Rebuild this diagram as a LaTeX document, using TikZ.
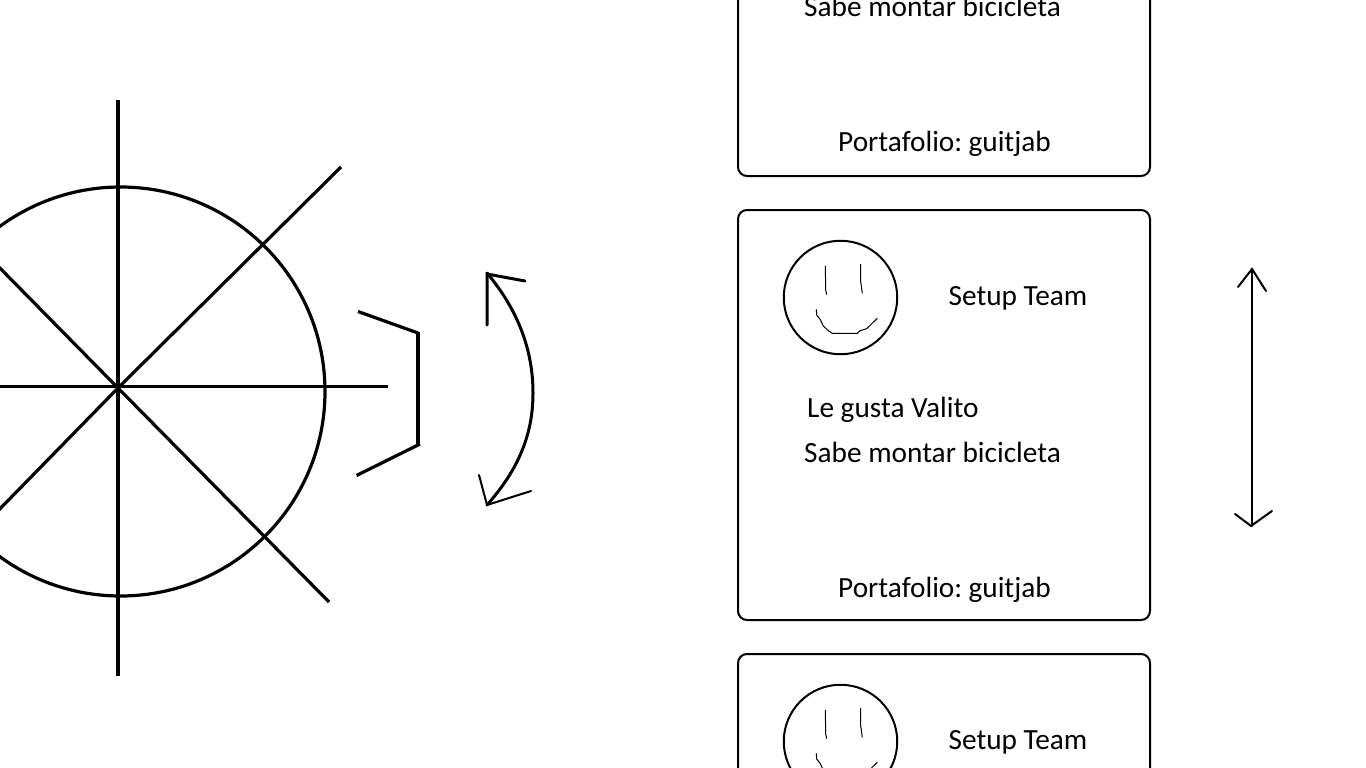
\documentclass[tikz,border=0pt]{standalone}
\usepackage{fontspec}
\setmainfont{Carlito}
\tikzset{
  ink/.style={draw=black,line width=2pt,line cap=round,line join=miter},
  heavy/.style={draw=black,line width=3.2pt},
  thin ink/.style={draw=black,line width=1pt},
  label/.style={inner sep=0pt,anchor=base,font=\fontsize{29.3}{34}\selectfont},
  leftlabel/.style={label,anchor=base west},
  cardbox/.style={draw=black,line width=2pt,rounded corners=9pt},
  smiley/.pic={
    \node[draw=black,line width=2pt,circle,minimum size=113.5pt,inner sep=0pt] (-face) at (840.5,297.5) {};
    \path[thin ink] (825.3,266) -- (825.7,290) -- (826.7,294.7);
    \path[thin ink] (860.7,264) -- (860.7,281.7) -- (862.3,293.3);
    \path[thin ink] (816.3,309.3) -- (816.7,315) -- (820,319.3) -- (823.3,326) -- (828.3,330.7) -- (832.3,333.3) -- (857.3,333.3) -- (860,330.7) -- (866.7,328.7) -- (877.3,318.3);
  }
}
\begin{document}
\begin{tikzpicture}[x=1pt,y=-1pt]
\useasboundingbox (0,0) rectangle (1366,768);
\clip (0,0) rectangle (1366,768);
% wheel
\path[heavy] (120.5,391.5) circle[radius=204.5];
\path[heavy] (118,100) -- (118,676);
\path[heavy] (-10,386.5) -- (388,386.5);
\path[heavy] (341,167) -- (118,388) -- (-10,519);
\path[heavy] (329,602) -- (118,388) -- (-10,258);
% bracket
\path[heavy] (358,311.5) -- (418,333);
\path[heavy] (418,332) -- (418,445);
\path[heavy] (356.5,475.5) -- (420,444);
% curved double arrow
\path[ink,line width=3pt] (487,273) .. controls (518,310) and (533,350) .. (533,393) .. controls (533,435) and (518,470) .. (487,505);
\path[ink,line width=3pt] (487,325) -- (487,274) -- (525,281);
\path[ink] (479,475) -- (487,505) -- (531,491);
% top card (cut by the upper edge)
\path[cardbox] (738,-234) rectangle (1150,176);
\node[leftlabel] (topskill) at (804,17) {Sabe montar bicicleta};
\node[label] (topfolio) at (944.5,151.5) {Portafolio:\hspace{-2.5pt} guitjab};
% middle card
\path[cardbox] (738,210) rectangle (1150,620);
\pic (mid) at (0,0) {smiley};
\node[label] (midteam) at (1018,305) {Setup Team};
\node[leftlabel] (midlikes) at (807,417) {Le gusta Valito};
\node[leftlabel] (midskill) at (804,462) {Sabe montar bicicleta};
\node[label] (midfolio) at (944.5,597) {Portafolio:\hspace{-2.5pt} guitjab};
% lower card (cut by the lower edge)
\path[cardbox] (738,654) rectangle (1150,1064);
\pic (low) at (0,444) {smiley};
\node[label] (lowteam) at (1018,749) {Setup Team};
% vertical double arrow
\path[ink] (1252,269) -- (1252,526);
\path[ink] (1238,287) -- (1252,269) -- (1266,291);
\path[ink] (1235,514) -- (1251,526) -- (1272,511);
\end{tikzpicture}
\end{document}
